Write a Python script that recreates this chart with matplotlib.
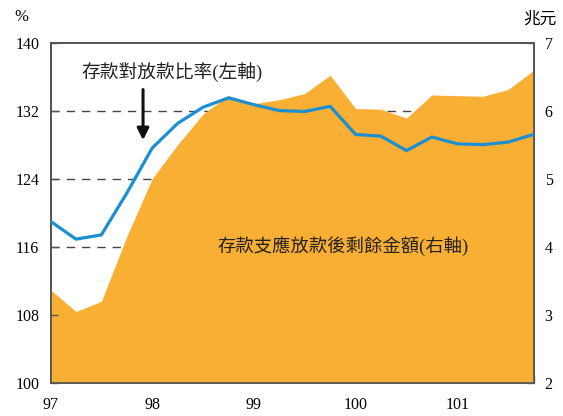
import numpy as np
import matplotlib
matplotlib.use("Agg")
import matplotlib.pyplot as plt

plt.rcParams['font.family'] = ['Liberation Serif', 'Noto Sans CJK TC']

# --- data (quarterly, 97Q1 .. 101Q4) ---
quarters = np.arange(20)
year_labels = ["97", "98", "99", "100", "101"]
ratio = [119.0, 116.9, 117.4, 122.3, 127.6, 130.5, 132.4, 133.5, 132.7, 132.0,
         131.9, 132.5, 129.2, 129.0, 127.3, 128.9, 128.1, 128.0, 128.3, 129.2]
surplus = [3.37, 3.05, 3.20, 4.15, 5.00, 5.50, 5.95, 6.22, 6.10, 6.16,
           6.25, 6.52, 6.03, 6.02, 5.89, 6.23, 6.22, 6.21, 6.31, 6.59]

orange = "#F9AE34"
blue = "#1A90D2"
spine_c = "#555555"

fig = plt.figure(figsize=(5.63, 4.16), dpi=100)
ax2 = fig.add_axes([0.0897, 0.0793, 0.858, 0.8185])
ax = ax2.twinx()
ax.set_zorder(ax2.get_zorder() + 1)
ax.patch.set_visible(False)

# 右軸: 面積 + 虛線格線
ax2.fill_between(quarters, 2, surplus, color=orange, lw=0, zorder=3)
for v in [4, 5, 6]:
    ax2.axhline(v, color="#444444", lw=1, ls=(0, (6, 5)), zorder=1)
ax2.set_ylim(2, 7)
ax2.yaxis.tick_right()
ax2.set_yticks([2, 3, 4, 5, 6, 7])

# 左軸: 比率線
ax.plot(quarters, ratio, color=blue, lw=2.3, zorder=5)
ax.set_ylim(100, 140)
ax.yaxis.tick_left()
ax.set_yticks([100, 108, 116, 124, 132, 140])

ax2.set_xlim(0, 19)
ax2.set_xticks(quarters, minor=True)
ax2.set_xticks([0, 4, 8, 12, 16])
ax2.set_xticklabels(year_labels)

for a in (ax, ax2):
    for s in a.spines.values():
        s.set_color(spine_c)
        s.set_linewidth(1.3)
    a.tick_params(direction="in", length=5, width=1, color=spine_c, labelsize=11.5)
ax2.tick_params(axis="x", which="major", length=5, pad=10)
ax2.tick_params(axis="x", which="minor", direction="in", length=5, width=1, color=spine_c)
ax.tick_params(axis="y", pad=8)
ax2.tick_params(axis="y", pad=8)

# annotations
ax.text(1.22, 136.5, "存款對放款比率(左軸)", fontsize=13.5, va="center", ha="left", color="#222222")
ax.annotate("", xy=(3.64, 128.2), xytext=(3.64, 134.8),
            arrowprops=dict(arrowstyle="-|>,head_width=0.35,head_length=0.7", color="#111111", lw=2.2))
ax.text(6.55, 116.1, "存款支應放款後剩餘金額(右軸)", fontsize=13.2, va="center", ha="left", color="#222222", zorder=6)

fig.text(21 / 563, 1 - 17 / 416, "%", fontsize=12, ha="center", va="center")
fig.text(540 / 563, 1 - 20 / 416, "兆元", fontsize=12, ha="center", va="center")

fig.savefig("out.png", dpi=100)
